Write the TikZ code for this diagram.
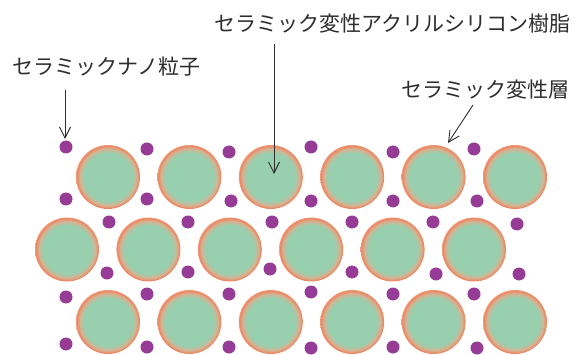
\documentclass[tikz,border=0pt]{standalone}
\usepackage{fontspec}
\newfontfamily\jp{Noto Sans CJK JP}
\usetikzlibrary{arrows.meta}
\definecolor{cgreen}{RGB}{152,207,174}
\definecolor{corange}{RGB}{238,130,92}
\definecolor{cmix}{RGB}{214,178,146}
\definecolor{cpurple}{RGB}{150,60,150}
\definecolor{ctext}{RGB}{45,45,45}
\pgfdeclareradialshading{bead}{\pgfpointorigin}{color(0bp)=(cgreen); color(19bp)=(cgreen); color(22.3bp)=(cmix); color(24.6bp)=(corange); color(25bp)=(corange!80!white); color(50bp)=(corange!80!white)}
\tikzset{
  bead/.style={circle, inner sep=0pt, minimum size=64pt, shading=bead},
  dot/.style={circle, fill=cpurple, inner sep=0pt, minimum size=13pt},
  lbl/.style={anchor=base west, inner sep=0pt, text=ctext, font=\jp\fontsize{21}{24}\selectfont},
  arr/.style={draw=ctext, line width=0.9pt, -{Straight Barb[length=11pt,width=11pt]}}
}
\begin{document}
\begin{tikzpicture}[x=1pt,y=-1pt]
\useasboundingbox (0,0) rectangle (575,355);
% beads
\foreach \x [count=\i] in {108,189.4,270.8,352.2,433.6,515}{
  \node[bead] (a\i) at (\x,177) {};
  \node[bead] (c\i) at (\x,322) {};
}
\foreach \x [count=\i] in {67,148.4,229.8,311.2,392.6,474}{
  \node[bead] (b\i) at (\x,249.5) {};
}
% nano particles
\foreach \x/\y [count=\i] in {66/147,147/149,229/152,311/147,393/152,474/149,
  66/199,147/199,231/201,311/201,393/201,477/201,
  109/222,188/222,272/222,352/222,433/222,517/224,
  107/273,188/272,270/269,352/272,436/274,519/274,
  66/297,147/294,229/294,311/292,393/294,474/294,
  66/344,147/347,229/347,311/348,393/347,477/348}{
  \node[dot] (d\i) at (\x,\y) {};
}
% labels
\node[lbl] (l1) at (12,75) {セラミックナノ粒子};
\node[lbl, anchor=base east] (l2) at (571,32) {セラミック変性アクリルシリコン樹脂};
\node[lbl] (l3) at (401,98) {セラミック変性層};
% arrows
\coordinate (s1) at (65,90);
\coordinate (e1) at (65,139);
\coordinate (s2) at (274,44);
\coordinate (e2) at (274,174);
\coordinate (s3) at (473,105);
\coordinate (e3) at (448,143);
\draw[arr] (s1) -- (e1);
\draw[arr] (s2) -- (e2);
\draw[arr] (s3) -- (e3);
\end{tikzpicture}
\end{document}
